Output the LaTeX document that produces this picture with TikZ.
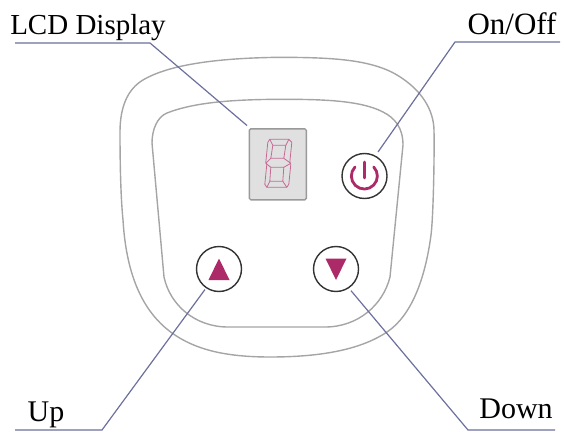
\documentclass[tikz,border=0pt]{standalone}
\usepackage{fontspec}
\setmainfont{Liberation Serif}
\usetikzlibrary{calc}
\definecolor{mag}{RGB}{172,42,104}
\definecolor{leader}{RGB}{108,112,156}
\definecolor{shell}{RGB}{165,165,165}
\tikzset{
  x=1pt,y=-1pt,
  shellline/.style={draw=shell,line width=1.4pt,line join=round},
  btn/.style={circle,draw=black!80,line width=1.4pt,minimum size=45pt,inner sep=0pt,fill=white},
  leaderline/.style={draw=leader,line width=1.2pt,line join=miter},
  lbl/.style={font=\fontsize{29}{29}\selectfont,inner sep=0pt,anchor=base,text=black},
  seg/.style={draw=mag!70,line width=0.8pt,line join=round},
  tri/.style={fill=mag,draw=none}
}
\begin{document}
\begin{tikzpicture}
\useasboundingbox (0,0) rectangle (564,433);
% housing
\draw[shellline] (280,57.3) .. controls (220,58) and (170,64) .. (143,80)
  .. controls (127,89.5) and (120,108) .. (120,132)
  .. controls (120,170) and (121,200) .. (123,220)
  .. controls (126,270) and (140,310) .. (172,333)
  .. controls (195,349.5) and (225,357) .. (270,357)
  .. controls (320,357) and (360,350) .. (387,332)
  .. controls (411,316) and (425,280) .. (431,235)
  .. controls (433,220) and (434.5,165) .. (434,130)
  .. controls (433.5,110) and (422,90) .. (397,75)
  .. controls (370,59) and (330,57.5) .. (280,57.3) -- cycle;
\draw[shellline] (280,99.3) .. controls (235,99.5) and (195,102) .. (167,113)
  .. controls (157,117) and (152,130) .. (152,143)
  -- (164,277)
  .. controls (170,305) and (195,327) .. (228,327)
  -- (325,327)
  .. controls (358,327) and (383,305) .. (390,277)
  -- (403,145)
  .. controls (403,128) and (395,118) .. (383,112)
  .. controls (360,100) and (320,99.3) .. (280,99.3) -- cycle;
% LCD
\node[draw=black!40,line width=1.4pt,fill=black!12,rounded corners=1.5pt,minimum width=57pt,minimum height=71pt,inner sep=0pt] (lcd) at (277.8,164.3) {};
% seven-segment digit
\begin{scope}[shift={(lcd.center)}]
  % outer outline
  \draw[seg] (-8,-25) -- (11,-25) -- (14,-22) -- (12,-2) -- (13,0) -- (11,20) -- (9,23) -- (-11,23) -- (-13,20) -- (-11,0) -- (-12,-2) -- (-10,-22) -- cycle;
  % inner upper window
  \draw[seg] (-5,-19) -- (8,-19) -- (6,-6) -- (-7,-6) -- cycle;
  % inner lower window
  \draw[seg] (-7,3) -- (6,3) -- (5,17) -- (-8,17) -- cycle;
  % middle bar
  \draw[seg] (-12,-1) -- (-7,-6);
  \draw[seg] (6,-6) -- (13,-1);
  \draw[seg] (-12,-1) -- (-7,3);
  \draw[seg] (6,3) -- (13,-1);
  % corner joints
  \draw[seg] (-8,-25) -- (-5,-19);
  \draw[seg] (11,-25) -- (8,-19);
  \draw[seg] (-11,23) -- (-8,17);
  \draw[seg] (9,23) -- (5,17);
\end{scope}
% buttons
\node[btn] (power) at (364.5,176) {};
\node[btn] (upbtn) at (219,269) {};
\node[btn] (downbtn) at (336,269) {};
% power glyph
\draw[mag,line width=2.8pt,line cap=round] ($(power)+(-9.5,-9)$) arc[start angle=136,end angle=404,radius=13pt];
\draw[mag,line width=2.8pt,line cap=round] ($(power)+(0,-14)$) -- ($(power)+(0,2)$);
% triangles
\fill[tri] ($(upbtn)+(0,-10.5)$) -- ($(upbtn)+(10.5,11)$) -- ($(upbtn)+(-10.5,11)$) -- cycle;
\fill[tri] ($(downbtn)+(-10.5,-10.5)$) -- ($(downbtn)+(10.5,-10.5)$) -- ($(downbtn)+(0,11)$) -- cycle;
% leaders
\coordinate (lcdA) at (15,43);
\coordinate (lcdB) at (150,43);
\coordinate (onA) at (560,42);
\coordinate (onB) at (455,42);
\coordinate (upA) at (15,430);
\coordinate (upB) at (102,430);
\coordinate (dnA) at (555,430);
\coordinate (dnB) at (468,430);
\draw[leaderline] (lcdA) -- (lcdB) -- ($(lcd.north west)+(-1.5,-2.5)$);
\draw[leaderline] (onA) -- (onB) -- ($(power)+(13.5,-24)$);
\draw[leaderline] (upA) -- (upB) -- ($(upbtn)+(-14,20.5)$);
\draw[leaderline] (dnA) -- (dnB) -- ($(downbtn)+(15,21.7)$);
% labels
\node[lbl] (tLcd) at (88,35) {LCD Display};
\node[lbl,font=\fontsize{31}{31}\selectfont] (tOn) at (512,35) {On/Off};
\node[lbl,font=\fontsize{30}{30}\selectfont] (tUp) at (46,421) {Up};
\node[lbl,font=\fontsize{30}{30}\selectfont] (tDn) at (516,418) {Down};
\end{tikzpicture}
\end{document}
